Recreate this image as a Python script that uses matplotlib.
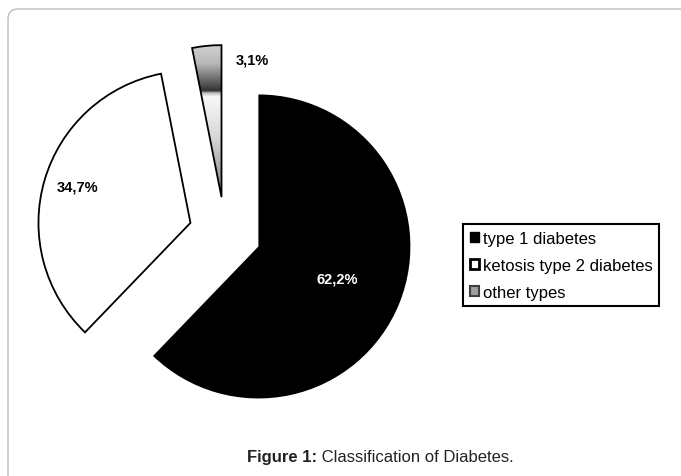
import numpy as np
import matplotlib.pyplot as plt
from matplotlib.patches import Patch, FancyBboxPatch

plt.rcParams['font.family'] = ['Liberation Sans', 'DejaVu Sans']

# данные
categories = ['type 1 diabetes', 'ketosis type 2 diabetes', 'other types']
shares = [62.2, 34.7, 3.1]
pct_labels = ['62,2%', '34,7%', '3,1%']

W, H = 681, 477
fig = plt.figure(figsize=(W / 100, H / 100), dpi=100)
ax = fig.add_axes([0, 0, 1, 1])
ax.set_axis_off()

# рамка со скруглённым углом
frame = FancyBboxPatch((8, -40), W + 40, H - 10 + 40,
                       boxstyle='round,pad=0,rounding_size=10',
                       fc='white', ec='#bdbdbd', lw=1.0, zorder=0)
ax.add_patch(frame)

cx, cy, R = 225, H - 234, 152
wedges, _ = ax.pie(shares, startangle=90, counterclock=False,
                   center=(cx, cy), radius=R, explode=[36, 36, 36],
                   colors=['black', 'white', '#b0b0b0'],
                   wedgeprops=dict(edgecolor='black', linewidth=1.3),
                   frame=True)
wedges[0].set_linewidth(0)

# градиент для маленького сектора (сверху вниз)
g = wedges[2]
verts = g.get_path().vertices
ytop, ybot = verts[:, 1].max(), verts[:, 1].min()
xl, xr = verts[:, 0].min(), verts[:, 0].max()
t = np.linspace(0, 1, 300)
shade = np.interp(t, [0, 0.12, 0.30, 0.315, 0.34, 0.6, 1],
                  [0.82, 0.72, 0.2, 0.75, 0.97, 0.85, 0.5])
img = np.repeat(shade[:, None], 4, axis=1)
ax.imshow(img, cmap='gray', vmin=0, vmax=1, aspect='auto', origin='upper',
          extent=[xl, xr, ybot, ytop], clip_path=g, zorder=2)
g.set_facecolor('none')
g.set_zorder(3)

# подписи процентов: (доля радиуса, сдвиг угла от середины сектора)
label_pos = [(0.56, 0), (0.78, -1.5), (0.93, -18)]
label_col = ['white', 'black', 'black']
for w, txt, (fr, dth), col in zip(wedges, pct_labels, label_pos, label_col):
    ang = np.deg2rad((w.theta1 + w.theta2) / 2 + dth)
    x0, y0 = w.center
    ax.text(x0 + fr * R * np.cos(ang), y0 + fr * R * np.sin(ang), txt,
            ha='center', va='center', fontsize=10.5, fontweight='bold',
            color=col, zorder=5)

ax.set_xlim(0, W)
ax.set_ylim(0, H)
ax.set_aspect('equal')

handles = [Patch(fc='black', ec='black', lw=1),
           Patch(fc='white', ec='black', lw=2),
           Patch(fc='#a0a0a0', ec='#404040', lw=1.5)]
leg = ax.legend(handles, categories, loc='upper left',
                bbox_to_anchor=(463 / W, 1 - 225 / H), fontsize=12,
                handlelength=0.55, handleheight=0.55, handletextpad=0.25,
                labelspacing=0.72, borderpad=0.4, borderaxespad=0,
                fancybox=False, framealpha=1)
leg.get_frame().set_edgecolor('black')
leg.get_frame().set_linewidth(1.5)

cap = fig.text(247 / W, 1 - 458 / H, 'Figure 1:', fontsize=12,
               fontweight='bold', color='#222222', va='center')
ax.annotate(' Classification of Diabetes.', xy=(1, 0.5), xycoords=cap,
            va='center', ha='left', fontsize=12, color='#222222')

fig.savefig('out.png', dpi=100)
